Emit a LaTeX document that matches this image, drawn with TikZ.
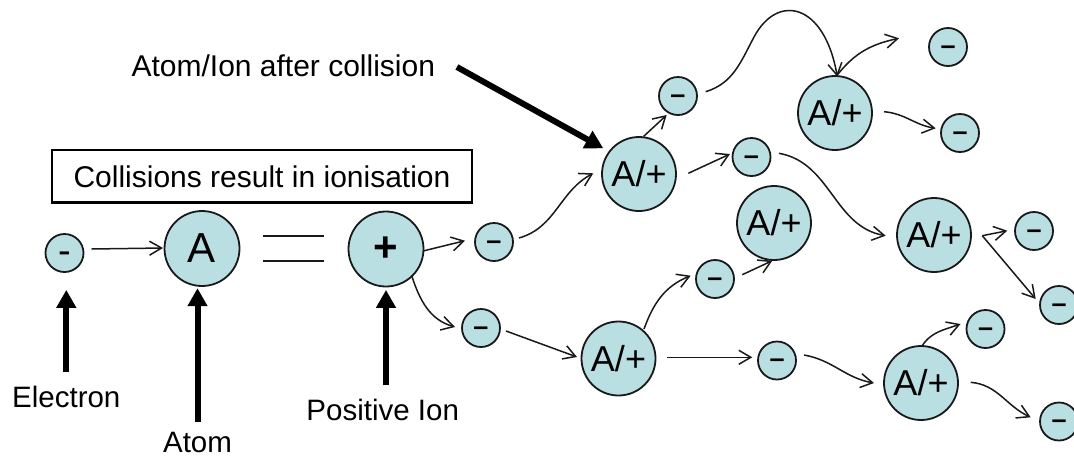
\documentclass[tikz,border=0pt]{standalone}
\usepackage{fontspec}
\setmainfont{Liberation Sans}
\usetikzlibrary{arrows.meta,calc}
\definecolor{ballfill}{RGB}{186,223,227}
\definecolor{ink}{RGB}{25,25,25}
\begin{document}
\begin{tikzpicture}[x=1pt,y=1pt,
  big/.style={circle,draw=ink,line width=1.8pt,fill=ballfill,minimum size=74pt,inner sep=0pt,font=\fontsize{36}{40}\selectfont},
  elec/.style={circle,draw=ink,line width=1.8pt,fill=ballfill,minimum size=38pt,inner sep=0pt,font=\fontsize{27}{30}\bfseries\selectfont,text height=14pt,text depth=0pt},
  conn/.style={draw=ink,line width=1.5pt,-{Straight Barb[length=12pt,width=14pt]}},
  pointer/.style={draw=black,line width=6pt,-{Triangle[length=18pt,width=19pt]}},
  lbl/.style={font=\fontsize{29.5}{34}\selectfont,inner sep=0pt,anchor=base}]
\useasboundingbox (0,0) rectangle (1074,-459);

% particles
\node[elec,font=\fontsize{38}{38}\selectfont,text height=20.5pt] (e0) at (64.5,-253) {-};
\node[big,minimum size=75pt,font=\fontsize{42}{46}\selectfont] (A) at (202,-248.5) {A};
\node[big,minimum size=75pt,font=\fontsize{42}{46}\bfseries\selectfont] (P) at (386,-249) {+};
\node[elec] (e1) at (494,-242) {\textendash};
\node[elec] (e2) at (481,-328) {\textendash};
\node[big] (AP1) at (639,-174) {A/+};
\node[elec] (e3) at (678,-96) {\textendash};
\node[elec] (e4) at (751.5,-157) {\textendash};
\node[big] (AP2) at (835,-113) {A/+};
\node[elec] (e5) at (948,-47) {\textendash};
\node[elec] (e6) at (960,-133) {\textendash};
\node[big] (AP3) at (774,-223) {A/+};
\node[big] (AP4) at (934,-235) {A/+};
\node[elec] (e7) at (1034,-231) {\textendash};
\node[elec] (e8) at (1059,-305) {\textendash};
\node[elec] (e9) at (715,-279) {\textendash};
\node[big] (AP5) at (618.5,-358.5) {A/+};
\node[elec] (e10) at (777,-360.5) {\textendash};
\node[big] (AP6) at (921,-383) {A/+};
\node[elec] (e11) at (985.5,-329) {\textendash};
\node[elec] (e12) at (1059,-421.5) {\textendash};

% labels
\node[lbl] (lE) at (66.3,-407.3) {Electron};
\node[lbl] (lA) at (197.5,-452.5) {Atom};
\node[lbl] (lP) at (382.7,-420.7) {Positive Ion};
\node[lbl,font=\fontsize{30}{34}\selectfont] (lC) at (283.3,-76.7) {Atom/Ion after collision};
\node[draw=black,line width=2.5pt,minimum width=420pt,minimum height=52.7pt,inner sep=0pt,font=\fontsize{30}{34}\selectfont] (box) at (262,-176.3) {Collisions result in ionisation};

% equals sign
\draw[ink,line width=1.7pt] (263,-235.7) -- (324,-235.7);
\draw[ink,line width=1.7pt] (263,-261) -- (324,-261);

% pointers
\coordinate (eT) at (lE.north |- e0.south);
\draw[pointer] ($(lE.north)+(0,13.5)$) -- ($(eT)+(0,-17)$);
\coordinate (aT) at (lA.north |- A.south);
\draw[pointer] ($(lA.north)+(0,10)$) -- ($(aT)+(0,-1.3)$);
\coordinate (pB) at (lP.north -| P.south);
\draw[pointer] ($(pB)+(0,13.7)$) -- ($(P.south)+(0,-2.5)$);
\draw[pointer] ($(lC.east)+(21.7,-1)$) -- ($(AP1)+(-35.7,25.7)$);

% connectors
\draw[conn] ($(e0)+(27,4)$) -- ($(A)+(-39,0.5)$);
\draw[conn] ($(P)+(37,-2)$) -- ($(e1)+(-29,1.3)$);
\draw[conn] ($(P)+(25.7,-26.7)$) to[out=-72,in=164] ($(e2)+(-26,1)$);
\draw[conn] ($(e1)+(25,4)$) to[out=16,in=208] ($(AP1)+(-45.7,0.7)$);
\draw[conn] (AP1.83) -- ($(e3)+(-11.3,-19)$);
\draw[conn] ($(AP1)+(49.3,0.7)$) -- ($(e4)+(-21.5,3)$);
\coordinate (k1) at (754,-37);
\draw[conn] ($(e3)+(27.7,4.3)$) to[out=17,in=242] (k1)
   .. controls (777.5,7.1) and (824.3,-2.8) .. ($(AP2)+(2.3,36.3)$);
\coordinate (f1) at (899,-38.3);
\draw[conn] ($(AP2)+(2.3,38)$) to[out=52,in=192] (f1);
\draw[conn] ($(AP2)+(49,1.3)$) to[out=-5,in=171] ($(e6)+(-24.3,4.7)$);
\draw[conn] ($(e4)+(27.5,3.7)$) to[out=-10,in=170] ($(AP4)+(-48.3,-0.7)$);
\coordinate (v) at ($(AP4)+(48.3,-0.7)$);
\draw[conn] (v) -- ($(e7)+(-26.7,0.3)$);
\draw[conn] (v) -- ($(e8)+(-23.3,6)$);
\draw[conn] ($(e2)+(25,-3)$) -- ($(AP5)+(-41.5,1.5)$);
\draw[conn] ($(AP5)+(25.5,29.5)$) to[out=70,in=202] ($(e9)+(-24.3,3.3)$);
\draw[conn] ($(e9)+(27.3,4.3)$) -- ($(AP3)+(-1.7,-37.7)$);
\draw[conn] ($(AP5)+(48.8,1.2)$) -- ($(e10)+(-24.7,3.2)$);
\draw[conn] ($(e10)+(27,5.5)$) to[out=-10,in=170] ($(AP6)+(-47,0)$);
\draw[conn] ($(AP6)+(1,37)$) to[out=57,in=200] ($(e11)+(-25,5)$);
\draw[conn] ($(AP6)+(49.7,0.7)$) to[out=-5,in=155] ($(e12)+(-28.3,4.2)$);
\end{tikzpicture}
\end{document}
